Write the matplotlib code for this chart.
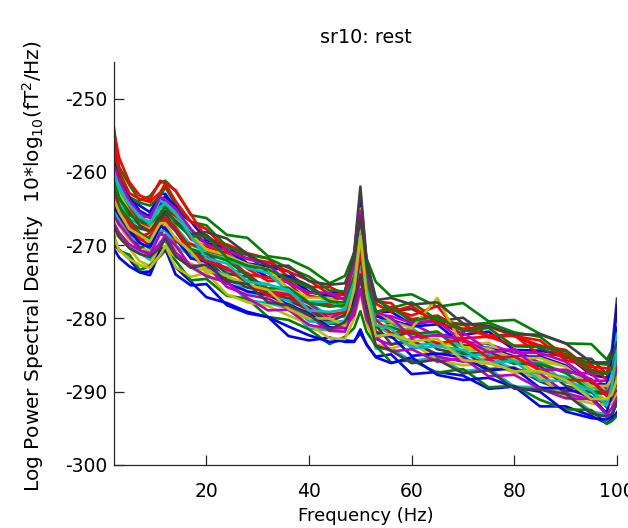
import matplotlib
matplotlib.use("Agg")
import matplotlib.pyplot as plt

# ---------------- data ----------------
freqs = [2, 3, 5, 7, 9, 11, 12, 14, 17, 20, 24, 28, 32, 36, 40, 44, 47, 48.8, 50, 51.2,
         53, 56, 60, 65, 70, 75, 80, 85, 90, 95, 98, 99, 100]

ch01 = [-258.0, -260.7, -263.8, -264.6, -265.5, -263.0, -263.0, -265.1, -266.8, -269.3, -270.0, -272.5, -272.9, -273.6, -276.4, -276.6, -276.3, -271.3, -263.0, -272.3, -279.1, -279.1, -280.8, -280.3, -282.2, -281.8, -284.3, -284.4, -285.0, -287.7, -288.1, -286.2, -281.3]
ch02 = [-254.0, -259.3, -261.8, -263.9, -263.3, -261.5, -261.2, -262.6, -265.9, -266.3, -268.6, -269.0, -271.5, -271.9, -273.2, -275.2, -274.2, -271.0, -265.7, -271.8, -275.0, -277.0, -276.7, -278.4, -277.9, -280.4, -280.2, -282.1, -283.4, -283.5, -285.6, -284.4, -282.3]
ch03 = [-254.5, -258.1, -261.4, -263.2, -263.8, -261.2, -261.6, -262.5, -265.8, -269.1, -269.9, -271.1, -271.8, -274.4, -275.7, -275.7, -276.7, -273.2, -268.5, -273.9, -277.7, -277.9, -280.6, -280.3, -280.8, -282.6, -282.3, -285.0, -285.0, -286.3, -288.4, -286.6, -283.8]
ch04 = [-261.8, -264.1, -266.4, -267.2, -267.6, -266.3, -265.1, -267.5, -270.0, -270.8, -273.7, -274.8, -275.3, -276.6, -277.8, -279.7, -279.8, -274.6, -267.5, -275.5, -281.0, -282.1, -281.3, -283.7, -284.4, -284.1, -285.4, -286.0, -288.7, -289.6, -289.8, -288.5, -284.3]
ch05 = [-260.3, -262.4, -264.5, -266.3, -267.1, -265.2, -264.3, -265.7, -268.7, -269.7, -270.6, -272.7, -274.4, -274.3, -276.4, -276.9, -276.7, -273.0, -266.5, -273.9, -279.5, -279.7, -280.6, -280.3, -283.2, -283.5, -284.7, -284.7, -285.9, -288.5, -288.5, -287.0, -282.8]
ch06 = [-266.3, -267.3, -269.3, -270.1, -271.0, -268.5, -268.5, -270.6, -271.1, -272.3, -273.0, -275.5, -275.9, -276.6, -279.4, -279.6, -279.3, -273.9, -265.0, -275.0, -281.3, -280.6, -282.3, -281.8, -283.7, -283.3, -285.8, -285.9, -286.5, -289.2, -289.6, -288.3, -284.8]
ch07 = [-259.5, -262.4, -264.3, -266.4, -265.8, -264.5, -263.7, -265.1, -268.3, -268.6, -270.9, -271.3, -273.8, -274.2, -275.5, -277.5, -276.5, -270.9, -262.0, -272.0, -277.2, -279.0, -278.7, -280.4, -279.9, -282.4, -282.2, -284.1, -285.4, -285.5, -287.6, -284.3, -277.3]
ch08 = [-270.0, -270.6, -271.9, -273.7, -273.6, -270.3, -270.6, -273.0, -275.0, -277.1, -277.9, -279.1, -279.8, -282.4, -283.0, -282.6, -283.2, -283.2, -281.5, -283.6, -285.2, -284.9, -287.6, -287.3, -287.8, -289.6, -289.3, -292.0, -292.0, -293.3, -294.3, -293.8, -292.8]
ch09 = [-257.3, -260.5, -263.4, -264.2, -264.6, -263.3, -262.1, -264.5, -266.8, -267.3, -270.2, -271.3, -271.8, -273.1, -274.3, -276.2, -276.3, -271.9, -266.0, -272.7, -277.5, -278.6, -277.8, -280.2, -280.9, -280.6, -281.9, -282.5, -285.2, -286.1, -286.3, -285.6, -282.8]
ch10 = [-261.0, -263.0, -265.0, -266.8, -267.6, -265.7, -264.8, -266.2, -269.2, -270.2, -271.1, -273.2, -274.9, -274.8, -276.9, -277.4, -277.2, -274.3, -269.0, -275.1, -279.2, -278.7, -279.6, -278.3, -282.7, -282.5, -283.7, -283.7, -284.9, -287.5, -287.5, -286.9, -284.8]
ch11 = [-267.8, -268.5, -270.3, -271.1, -272.0, -269.5, -269.5, -271.6, -272.6, -274.3, -275.0, -277.5, -277.9, -278.6, -281.4, -281.6, -281.3, -279.5, -276.0, -280.1, -284.1, -284.1, -285.8, -285.3, -287.2, -286.8, -289.3, -289.4, -290.0, -292.7, -293.1, -292.4, -290.3]
ch12 = [-264.0, -266.0, -267.3, -269.4, -268.8, -267.5, -266.7, -268.1, -271.1, -271.1, -273.4, -273.8, -276.3, -276.7, -278.0, -280.0, -279.0, -275.4, -269.5, -276.2, -279.4, -281.0, -280.7, -282.4, -281.9, -284.4, -284.2, -286.1, -287.4, -287.5, -289.6, -288.1, -285.3]
ch13 = [-268.5, -268.9, -270.4, -272.2, -272.8, -269.9, -270.3, -271.5, -272.5, -273.6, -274.4, -275.6, -276.3, -278.9, -280.2, -280.2, -281.2, -277.7, -273.0, -278.4, -281.4, -280.9, -283.6, -283.3, -283.8, -285.6, -285.3, -288.0, -288.0, -289.3, -291.4, -289.9, -287.8]
ch14 = [-262.5, -264.7, -266.9, -267.7, -268.1, -266.8, -265.6, -268.0, -270.8, -271.8, -274.7, -275.8, -276.3, -277.6, -278.8, -280.7, -280.8, -276.8, -271.5, -277.6, -281.8, -282.6, -281.8, -284.2, -284.9, -284.6, -285.9, -286.5, -289.2, -290.1, -290.3, -289.6, -286.8]
ch15 = [-258.8, -261.2, -263.5, -265.3, -266.1, -264.2, -263.3, -264.7, -268.2, -269.7, -270.6, -272.7, -274.4, -274.3, -276.4, -276.9, -276.7, -272.6, -265.5, -273.5, -279.7, -280.2, -281.1, -280.8, -283.7, -284.0, -285.2, -285.2, -286.4, -289.0, -289.0, -286.0, -278.3]
ch16 = [-268.8, -270.8, -271.3, -273.4, -272.8, -271.5, -270.7, -272.1, -274.8, -274.6, -276.9, -277.3, -279.8, -280.2, -281.5, -283.5, -282.5, -281.3, -279.0, -281.8, -283.7, -286.0, -285.7, -287.4, -286.9, -289.4, -289.2, -291.1, -292.4, -292.5, -294.4, -294.0, -293.3]
ch17 = [-264.8, -266.1, -268.3, -269.1, -270.0, -267.5, -267.5, -269.6, -269.8, -270.8, -271.5, -274.0, -274.4, -275.1, -277.9, -278.1, -277.8, -275.6, -271.5, -276.3, -279.5, -278.4, -280.1, -279.6, -281.5, -282.3, -282.4, -283.7, -284.3, -287.0, -287.4, -286.7, -284.6]
ch18 = [-259.5, -261.7, -264.4, -266.2, -266.8, -263.9, -264.3, -265.5, -268.3, -271.1, -271.9, -273.1, -273.8, -276.4, -277.7, -277.7, -278.7, -274.8, -269.5, -275.6, -280.2, -280.5, -282.1, -282.0, -283.9, -284.0, -285.9, -286.0, -287.5, -289.2, -290.3, -287.7, -282.1]
ch19 = [-267.0, -268.3, -269.9, -270.7, -271.1, -269.8, -268.6, -271.0, -272.8, -272.8, -275.7, -276.8, -277.3, -278.6, -279.8, -281.7, -281.8, -278.6, -274.5, -279.3, -282.8, -283.6, -282.8, -285.2, -285.9, -285.6, -286.9, -287.5, -290.2, -291.1, -291.3, -291.2, -289.8]
ch20 = [-260.5, -262.9, -265.4, -267.2, -267.8, -264.9, -265.3, -266.5, -268.5, -270.6, -271.4, -272.6, -273.3, -275.9, -277.2, -277.2, -278.2, -273.9, -268.0, -274.7, -278.9, -280.4, -281.3, -277.2, -283.9, -284.2, -285.4, -285.4, -286.6, -289.2, -289.2, -288.3, -285.5]
ch21 = [-265.5, -267.2, -268.3, -270.4, -269.8, -268.5, -267.7, -269.1, -271.8, -271.6, -273.9, -274.3, -276.8, -277.2, -278.5, -280.5, -279.5, -276.7, -272.0, -277.4, -280.9, -283.5, -283.2, -284.9, -284.4, -286.9, -286.7, -288.6, -289.9, -290.0, -292.1, -290.9, -288.8]
ch22 = [-270.5, -271.7, -272.9, -273.7, -274.1, -270.8, -270.5, -274.0, -275.5, -275.3, -278.2, -279.3, -279.8, -281.1, -282.3, -283.2, -283.0, -283.1, -282.0, -283.5, -285.3, -286.1, -285.3, -287.7, -288.4, -288.1, -289.4, -290.0, -292.7, -293.6, -293.8, -293.4, -291.3]
ch23 = [-263.3, -264.8, -266.5, -268.3, -269.1, -267.2, -266.3, -267.7, -270.5, -271.2, -272.1, -274.2, -275.9, -275.8, -277.9, -278.4, -278.2, -276.1, -272.0, -276.8, -281.0, -281.2, -282.1, -281.8, -284.7, -285.0, -286.2, -286.2, -287.4, -290.0, -290.0, -289.7, -288.3]
ch24 = [-256.0, -259.9, -262.9, -263.7, -264.1, -262.8, -261.6, -264.0, -266.8, -267.8, -270.7, -271.8, -272.3, -273.6, -274.8, -276.7, -276.8, -272.0, -265.5, -272.9, -278.0, -279.1, -278.3, -280.7, -281.4, -281.1, -282.4, -283.0, -285.7, -286.6, -286.8, -286.7, -285.3]
ch25 = [-265.0, -266.7, -268.8, -269.6, -270.5, -268.0, -268.0, -270.1, -271.3, -273.3, -274.0, -276.5, -276.9, -277.6, -280.4, -280.6, -280.3, -277.3, -272.0, -278.1, -282.6, -282.1, -283.8, -283.3, -285.2, -284.8, -287.3, -287.4, -288.0, -290.7, -291.1, -289.8, -286.3]
ch26 = [-259.2, -261.1, -263.9, -265.7, -266.3, -263.4, -263.8, -265.0, -267.8, -269.9, -270.7, -271.9, -272.6, -275.2, -276.5, -276.5, -277.5, -272.4, -265.3, -273.3, -279.1, -279.9, -282.6, -282.3, -282.8, -284.6, -284.3, -287.0, -287.0, -288.3, -290.4, -288.9, -286.8]
ch27 = [-269.0, -270.7, -271.9, -272.7, -273.1, -271.3, -270.1, -273.0, -274.3, -273.8, -276.7, -277.8, -278.3, -279.6, -280.8, -282.7, -282.8, -280.0, -276.5, -280.6, -283.5, -284.1, -283.3, -285.7, -286.4, -286.1, -287.4, -288.0, -290.7, -291.6, -291.8, -291.7, -290.3]
ch28 = [-261.5, -263.6, -265.5, -267.3, -268.1, -266.2, -265.3, -266.7, -268.5, -268.2, -269.1, -271.2, -272.9, -272.8, -274.9, -275.4, -275.2, -271.9, -266.0, -272.7, -277.5, -277.2, -278.1, -277.8, -280.7, -281.0, -282.2, -282.2, -283.4, -286.0, -286.0, -285.4, -283.3]
ch29 = [-264.8, -265.9, -267.9, -269.7, -270.3, -267.4, -267.8, -269.0, -271.8, -272.3, -275.2, -276.3, -276.8, -278.1, -279.3, -281.2, -281.3, -276.9, -271.0, -277.7, -282.2, -282.4, -285.1, -284.8, -285.3, -287.1, -286.8, -289.5, -289.5, -290.8, -292.9, -289.9, -284.3]
ch30 = [-261.2, -263.5, -265.9, -266.7, -267.1, -265.8, -264.6, -267.0, -268.8, -268.8, -271.7, -272.8, -273.3, -274.6, -275.8, -277.7, -277.8, -274.2, -269.5, -274.9, -279.1, -278.6, -280.3, -279.8, -281.7, -281.3, -283.8, -283.9, -284.5, -287.2, -287.6, -286.9, -284.8]
ch31 = [-263.0, -265.4, -266.8, -268.9, -268.3, -267.0, -266.2, -267.6, -271.0, -272.2, -273.1, -275.2, -276.9, -276.8, -278.9, -279.4, -279.2, -276.3, -271.0, -277.1, -280.2, -282.0, -281.7, -283.4, -282.9, -285.4, -285.2, -287.1, -288.4, -288.5, -290.6, -289.1, -286.3]
ch32 = [-260.0, -262.4, -264.5, -266.0, -267.1, -264.8, -264.3, -265.7, -268.8, -271.8, -272.5, -275.0, -275.4, -276.1, -278.9, -279.1, -278.8, -275.0, -268.5, -275.9, -280.9, -281.4, -284.1, -283.8, -284.3, -286.1, -285.8, -288.5, -288.5, -289.8, -291.9, -289.2, -284.3]
ch33 = [-266.0, -267.1, -268.9, -270.7, -271.3, -268.4, -268.8, -270.0, -273.0, -274.2, -275.1, -277.2, -278.9, -278.8, -280.9, -281.4, -281.2, -279.5, -276.0, -280.1, -282.4, -284.5, -284.2, -285.9, -285.4, -287.9, -287.7, -289.6, -290.9, -291.0, -293.1, -292.2, -290.8]
ch34 = [-263.8, -265.5, -267.8, -268.6, -269.5, -267.0, -267.0, -269.1, -270.9, -273.4, -274.2, -275.4, -276.1, -278.7, -280.0, -280.0, -281.0, -275.9, -268.8, -276.8, -282.4, -282.2, -283.1, -282.8, -285.7, -286.0, -287.2, -287.2, -288.4, -291.0, -291.0, -290.4, -288.3]
ch35 = [-267.5, -268.9, -270.4, -271.2, -271.6, -270.3, -269.1, -271.5, -273.1, -272.6, -274.9, -275.3, -277.8, -278.2, -279.5, -281.5, -280.5, -278.1, -274.0, -278.8, -283.7, -284.4, -286.1, -285.6, -287.5, -287.1, -289.6, -289.7, -290.3, -293.0, -293.4, -293.0, -291.6]

channels = [ch01, ch02, ch03, ch04, ch05, ch06, ch07, ch08, ch09, ch10, ch11, ch12,
            ch13, ch14, ch15, ch16, ch17, ch18, ch19, ch20, ch21, ch22, ch23, ch24,
            ch25, ch26, ch27, ch28, ch29, ch30, ch31, ch32, ch33, ch34, ch35]

# MATLAB classic colour order: b, g, r, c, m, y, k
color_order = [(0, 0, 1), (0, 0.5, 0), (1, 0, 0), (0, 0.75, 0.75),
               (0.75, 0, 0.75), (0.75, 0.75, 0), (0.25, 0.25, 0.25)]

x_ticks = [20, 40, 60, 80, 100]
y_ticks = [-300, -290, -280, -270, -260, -250]
title_text = "sr10: rest"
x_label = "Frequency (Hz)"
y_label = r"Log Power Spectral Density  10*log$_{10}$(fT$^{2}$/Hz)"

# ---------------- plotting ----------------
plt.rcParams["font.family"] = ["DejaVu Sans"]
plt.rcParams["axes.unicode_minus"] = False
plt.rcParams["mathtext.fontset"] = "dejavusans"

fig = plt.figure(figsize=(6.28, 5.28), dpi=100)
ax = fig.add_axes([114 / 628, 63 / 528, 503 / 628, 403 / 528])

for i, vals in enumerate(channels):
    ax.plot(freqs, vals, color=color_order[i % len(color_order)], lw=1.9,
            solid_joinstyle="round")

ax.set_xlim(2, 100)
ax.set_ylim(-300, -245)
ax.set_xticks(x_ticks)
ax.set_yticks(y_ticks)

for side in ("top", "right"):
    ax.spines[side].set_visible(False)
for side in ("left", "bottom"):
    ax.spines[side].set_color("#262626")
    ax.spines[side].set_linewidth(0.9)

ax.tick_params(direction="in", length=7, width=0.9, color="#262626",
               labelsize=13.5, labelcolor="black")
ax.tick_params(axis="x", pad=12)
ax.tick_params(axis="y", pad=5)

ax.set_title(title_text, fontsize=13.8, pad=13.7)
ax.set_xlabel(x_label, fontsize=13)
ax.xaxis.set_label_coords(0.5, -0.105)
ax.set_ylabel(y_label, fontsize=14.5)
ax.yaxis.set_label_coords(-0.136, 0.494)

fig.savefig("out.png", dpi=100)
